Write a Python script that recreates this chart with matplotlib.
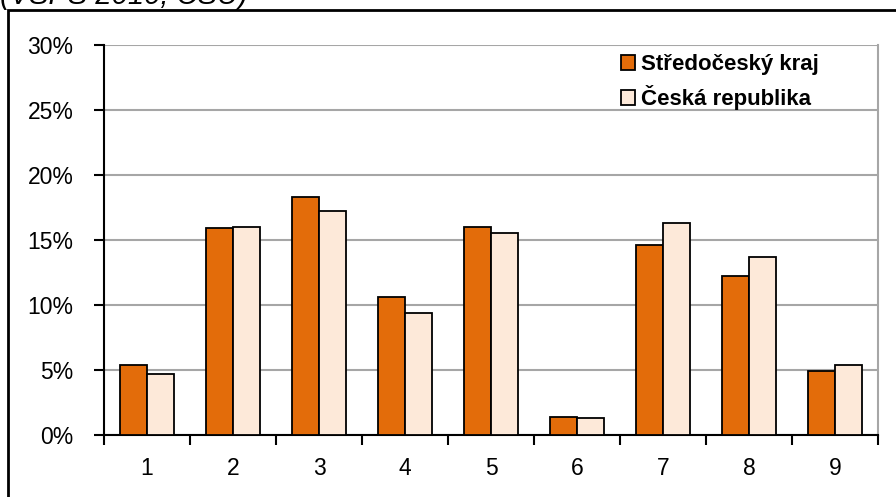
import numpy as np
import matplotlib
import matplotlib.pyplot as plt
from matplotlib.patches import Rectangle

matplotlib.rcParams.update({'font.family': ['Liberation Sans', 'DejaVu Sans'],
                            'font.size': 16.5})

# data (share, %)
categories = ['1', '2', '3', '4', '5', '6', '7', '8', '9']
stredocesky = [5.4, 15.9, 18.3, 10.6, 16.0, 1.4, 14.6, 12.2, 4.9]
cr = [4.7, 16.0, 17.2, 9.4, 15.5, 1.3, 16.3, 13.7, 5.4]
series_names = ['Středočeský kraj', 'Česká republika']
yticks = [0, 5, 10, 15, 20, 25, 30]

fig = plt.figure(figsize=(8.96, 4.97), dpi=100)
ax = fig.add_axes([104/896, 62/497, 774/896, 390/497])

x = np.arange(len(categories))
w = 0.31
ax.bar(x - w/2, stredocesky, w, color='#E36C0A', edgecolor='black', linewidth=1.3,
       label=series_names[0], zorder=3)
ax.bar(x + w/2, cr, w, color='#FDE9D9', edgecolor='black', linewidth=1.3,
       label=series_names[1], zorder=3)

ax.set_xlim(-0.5, len(categories) - 0.5)
ax.set_ylim(0, 30)
ax.set_yticks(yticks)
ax.set_yticklabels([f'{v}%' for v in yticks])
ax.yaxis.grid(True, color='#A6A6A6', linewidth=1.5, zorder=0)

# category labels centred, tick marks at the group borders
ax.set_xticks(x)
ax.set_xticklabels(categories)
ax.tick_params(axis='x', length=0, pad=16)
ax.set_xticks(np.arange(-0.5, len(categories)), minor=True)
ax.tick_params(axis='x', which='minor', length=7, width=1.5, direction='out')
ax.tick_params(axis='y', length=7, width=1.5, direction='out', pad=15)

ax.spines['top'].set_visible(False)
ax.spines['right'].set_color('#A6A6A6')
ax.spines['right'].set_linewidth(1.5)
for s in ['left', 'bottom']:
    ax.spines[s].set_linewidth(1.5)

leg = ax.legend(loc='upper left', bbox_to_anchor=(621/896, 1 - 54/497),
                bbox_transform=fig.transFigure, frameon=False,
                prop={'weight': 'bold', 'size': 16},
                handlelength=0.65, handleheight=0.65, handletextpad=0.25,
                labelspacing=0.45, borderpad=0, borderaxespad=0)
leg.set_zorder(5)

# outer frame of the chart object, cut off by the image edge
fig.patches.append(Rectangle((8/896, -0.1), 1.0, 1 - 10/497 + 0.1,
                             transform=fig.transFigure, fill=False,
                             edgecolor='black', linewidth=2))

fig.text(0.0, 1 - 4/497, '(VŠPS 2010, ČSÚ)', fontsize=21, style='italic',
         ha='left', va='baseline')

fig.savefig('out.png', dpi=100)
